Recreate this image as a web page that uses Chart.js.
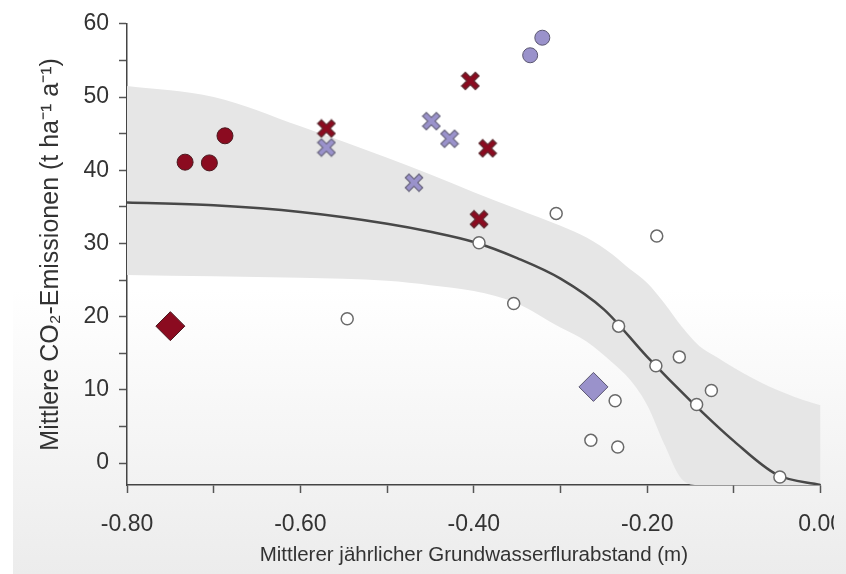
<!DOCTYPE html>
<html>
<head>
<meta charset="utf-8">
<script src="https://cdn.jsdelivr.net/npm/chart.js@4"></script>
<style>
  html, body { margin: 0; padding: 0; background: #fff; overflow: hidden; }
  #shade { position: absolute; left: 13px; top: 290px; width: 833px; height: 284px; background: linear-gradient(#ffffff, #ececec); }
  #clip { position: absolute; left: 0; top: 0; width: 834px; height: 574px; overflow: hidden; }
  #box { position: relative; width: 861px; height: 574px; }
</style>
</head>
<body>
<div id="shade"></div>
<div id="clip"><div id="box"><canvas id="chart"></canvas></div></div>
<script>
// measured groups
const redCircleX = [-0.733, -0.705, -0.687];
const redCircleY = [41.1, 41.0, 44.7];
const purpleCircleX = [-0.335, -0.321];
const purpleCircleY = [55.7, 58.1];
const redCrossX = [-0.570, -0.404, -0.384, -0.394];
const redCrossY = [45.7, 52.2, 43.0, 33.3];
const purpleCrossX = [-0.570, -0.469, -0.449, -0.428];
const purpleCrossY = [43.1, 38.3, 46.7, 44.3];
const redDiamondX = [-0.750];
const redDiamondY = [18.7];
const purpleDiamondX = [-0.262];
const purpleDiamondY = [10.4];
const openX = [-0.546, -0.394, -0.354, -0.305, -0.189, -0.233, -0.190, -0.163, -0.126, -0.143, -0.237, -0.265, -0.234, -0.047];
const openY = [19.7, 30.1, 21.8, 34.1, 31.0, 18.7, 13.3, 14.5, 9.9, 8.0, 8.5, 3.1, 2.2, -1.9];

// fitted curve
const curveX = [-0.80, -0.70, -0.60, -0.50, -0.45, -0.40, -0.35, -0.30, -0.25, -0.20, -0.15, -0.10, -0.05, 0.00];
const curveY = [35.6, 35.2, 34.3, 32.7, 31.6, 30.2, 28.0, 25.2, 21.0, 14.5, 8.5, 3.0, -1.6, -3.0];

// confidence band
const bandX = [-0.80, -0.70, -0.60, -0.50, -0.45, -0.40, -0.35, -0.30, -0.27, -0.24, -0.22, -0.20, -0.18, -0.16, -0.14, -0.12, -0.10, -0.08, -0.06, -0.04, -0.02, 0.00];
const bandUpper = [51.5, 50.0, 46.0, 41.7, 39.4, 37.0, 34.7, 32.4, 30.8, 28.5, 26.5, 24.6, 21.8, 18.6, 16.0, 14.5, 13.0, 11.7, 10.5, 9.5, 8.6, 7.9];
const bandLower = [25.7, 25.5, 25.3, 24.9, 24.3, 23.5, 21.8, 18.5, 16.6, 13.7, 11.4, 7.9, 2.5, -2.2, -3, -3, -3, -3, -3, -3, -3, -3];

// axes
const xTicks = [-0.8, -0.7, -0.6, -0.5, -0.4, -0.3, -0.2, -0.1, 0.0];
const xLabelled = [-0.8, -0.6, -0.4, -0.2, 0.0];
const yTicks = [0, 5, 10, 15, 20, 25, 30, 35, 40, 45, 50, 55, 60];
const yLabelled = [0, 10, 20, 30, 40, 50, 60];

const RED = '#8b0b20';
const PURPLE = '#9a92cb';

const pts = (xs, ys) => xs.map((x, i) => ({ x: x, y: ys[i] }));

function makeCross(fill, edge) {
  const c = document.createElement('canvas');
  c.width = 20; c.height = 20;
  const g = c.getContext('2d');
  g.lineCap = 'square';
  g.beginPath();
  g.moveTo(5, 5); g.lineTo(15, 15);
  g.moveTo(15, 5); g.lineTo(5, 15);
  g.strokeStyle = edge; g.lineWidth = 6.5; g.stroke();
  g.strokeStyle = fill; g.lineWidth = 4; g.stroke();
  return c;
}

Chart.defaults.font.family = '"Liberation Sans", Arial, sans-serif';
Chart.defaults.color = '#333';

new Chart(document.getElementById('chart'), {
  type: 'scatter',
  data: {
    datasets: [
      { data: pts(redCircleX, redCircleY), pointStyle: 'circle', pointRadius: 8, backgroundColor: RED, borderColor: '#4b1a20', borderWidth: 1, order: 1 },
      { data: pts(purpleCircleX, purpleCircleY), pointStyle: 'circle', pointRadius: 7.5, backgroundColor: PURPLE, borderColor: '#5a5670', borderWidth: 1, order: 1 },
      { data: pts(redCrossX, redCrossY), pointStyle: makeCross(RED, '#5c2a30'), order: 1 },
      { data: pts(purpleCrossX, purpleCrossY), pointStyle: makeCross(PURPLE, '#6c6880'), order: 1 },
      { data: pts(redDiamondX, redDiamondY), pointStyle: 'rectRot', pointRadius: 14.5, backgroundColor: RED, borderColor: '#4b1a20', borderWidth: 1, order: 1 },
      { data: pts(purpleDiamondX, purpleDiamondY), pointStyle: 'rectRot', pointRadius: 14.5, backgroundColor: PURPLE, borderColor: '#5a5670', borderWidth: 1, order: 1 },
      { data: pts(openX, openY), pointStyle: 'circle', pointRadius: 6, backgroundColor: '#fff', borderColor: '#6a6a6a', borderWidth: 1.5, order: 2 },
      { data: pts(curveX, curveY), showLine: true, pointRadius: 0, borderColor: '#484848', borderWidth: 2.5, cubicInterpolationMode: 'monotone', order: 5 },
      { data: pts(bandX, bandUpper), showLine: true, pointRadius: 0, borderWidth: 0, borderColor: 'rgba(0,0,0,0)', backgroundColor: '#e6e6e6', fill: '+1', cubicInterpolationMode: 'monotone', order: 10 },
      { data: pts(bandX, bandLower), showLine: true, pointRadius: 0, borderWidth: 0, borderColor: 'rgba(0,0,0,0)', fill: false, cubicInterpolationMode: 'monotone', order: 11 }
    ]
  },
  options: {
    responsive: true,
    maintainAspectRatio: false,
    animation: false,
    layout: { padding: { left: 36, top: 16, right: 0, bottom: 6 } },
    plugins: { legend: { display: false }, tooltip: { enabled: false } },
    scales: {
      x: {
        type: 'linear', min: -0.8, max: 0,
        afterBuildTicks: s => { s.ticks = xTicks.map(v => ({ value: v })); },
        afterFit: s => { s.height = 83; },
        ticks: {
          font: { size: 23 }, padding: 18, maxRotation: 0,
          callback: v => xLabelled.some(t => Math.abs(t - v) < 1e-6) ? v.toFixed(2) : ''
        },
        grid: { drawOnChartArea: false, tickLength: 8, tickColor: '#555', tickWidth: 1.5 },
        border: { color: '#444', width: 1.5 },
        title: { display: true, text: 'Mittlerer jährlicher Grundwasserflurabstand (m)', font: { size: 20.5 }, padding: { top: 0, bottom: 0 } }
      },
      y: {
        type: 'linear', min: -3, max: 60,
        afterBuildTicks: s => { s.ticks = yTicks.map(v => ({ value: v })); },
        afterFit: s => { s.width = 91; },
        ticks: {
          font: { size: 23 }, padding: 10,
          callback: v => yLabelled.includes(v) ? String(v) : ''
        },
        grid: { drawOnChartArea: false, tickLength: 8, tickColor: '#555', tickWidth: 1.5 },
        border: { color: '#444', width: 1.5 },
        title: { display: true, text: 'Mittlere CO₂-Emissionen (t ha⁻¹ a⁻¹)', font: { size: 25 }, padding: { top: 0, bottom: 0 } }
      }
    }
  }
});
</script>
</body>
</html>
